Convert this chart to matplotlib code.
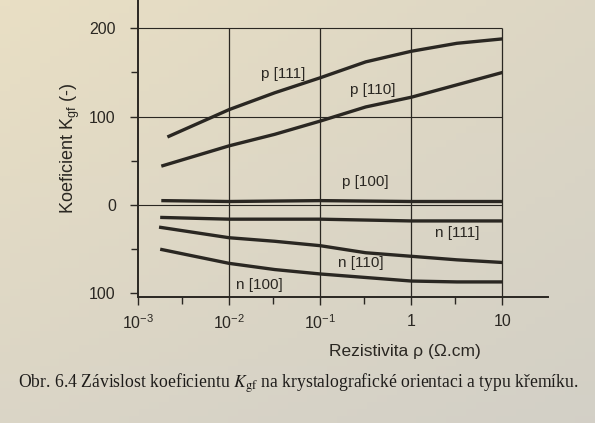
import numpy as np
import matplotlib
matplotlib.use("Agg")
import matplotlib.pyplot as plt
from matplotlib.ticker import FixedLocator, FixedFormatter, NullFormatter

plt.rcParams['font.family'] = ['Liberation Sans', 'DejaVu Sans']
plt.rcParams['mathtext.fontset'] = 'custom'
plt.rcParams['mathtext.rm'] = 'Liberation Sans'
plt.rcParams['mathtext.it'] = 'Liberation Sans:italic'
plt.rcParams['mathtext.bf'] = 'Liberation Sans:bold'

# ---- data ----
p111_x = [2.1e-3, 1e-2, 3.16e-2, 0.1, 0.316, 1, 3.16, 10]
p111_y = [77, 108, 127, 144, 162, 174, 183, 188]
p110_x = [1.8e-3, 1e-2, 3.16e-2, 0.1, 0.316, 1, 3.16, 10]
p110_y = [44, 67, 80, 95, 111, 122, 136, 150]
p100_x = [1.8e-3, 1e-2, 0.1, 1, 10]
p100_y = [5, 4, 5, 4, 4]
n111_x = [1.75e-3, 1e-2, 0.1, 1, 10]
n111_y = [-14, -16, -16, -18, -18]
n110_x = [1.7e-3, 1e-2, 3.16e-2, 0.1, 0.316, 1, 3.16, 10]
n110_y = [-25, -37, -41, -46, -54, -58, -62, -65]
n100_x = [1.75e-3, 1e-2, 3.16e-2, 0.1, 0.316, 1, 3.16, 10]
n100_y = [-50, -66, -73, -78, -82, -86, -87, -87]

series_names = ["p [111]", "p [110]", "p [100]", "n [111]", "n [110]", "n [100]"]
label_x = [0.039, 0.38, 0.31, 3.2, 0.28, 0.0215]
label_y = [148, 130, 26, -32, -66, -90]

x_ticks = [1e-3, 1e-2, 1e-1, 1, 10]
x_ticklabels = ["10$^{-3}$", "10$^{-2}$", "10$^{-1}$", "1", "10"]
x_minor = [3e-3, 3e-2, 3e-1, 3]
y_ticks = [-100, 0, 100, 200]
y_ticklabels = ["100", "0", "100", "200"]
y_minor = [-50, 50, 150]
grid_x = [1e-2, 1e-1, 1, 10]
grid_y = [0, 100, 200]

ink = "#2a2722"

fig = plt.figure(figsize=(5.95, 4.23), dpi=100)
# paper background
bg = fig.add_axes([0, 0, 1, 1], zorder=-10)
gx, gy = np.meshgrid(np.linspace(0, 1, 60), np.linspace(0, 1, 60))
top = np.array([233, 223, 196]) / 255.0
bot = np.array([214, 210, 199]) / 255.0
right = np.array([204, 203, 196]) / 255.0
t = np.clip(gy * 0.75 + gx * 0.25, 0, 1)[..., None]
img = top * (1 - t) + bot * t
img = img * (1 - 0.3 * gx[..., None]) + right * 0.3 * gx[..., None]
bg.imshow(img, extent=[0, 1, 0, 1], aspect='auto', origin='upper')
bg.set_axis_off()

ax = fig.add_axes([0.232, 0.298, 0.689, 0.702])
ax.set_facecolor('none')
ax.set_xscale('log')
ax.set_xlim(1e-3, 10 ** 1.5)
ax.set_ylim(-104, 232)

for s in ['top', 'right']:
    ax.spines[s].set_visible(False)
for s in ['left', 'bottom']:
    ax.spines[s].set_linewidth(1.4)
    ax.spines[s].set_color(ink)

ax.hlines(grid_y, 1e-3, 10, color=ink, lw=0.8, zorder=1)
ax.vlines(grid_x, -104, 200, color=ink, lw=0.9, zorder=1)

xs = [p111_x, p110_x, p100_x, n111_x, n110_x, n100_x]
ys = [p111_y, p110_y, p100_y, n111_y, n110_y, n100_y]
for x, y in zip(xs, ys):
    ax.plot(x, y, color=ink, lw=2.4, solid_capstyle='butt', zorder=3)

for name, lx, ly in zip(series_names, label_x, label_y):
    ax.text(lx, ly, name, ha='center', va='center', fontsize=11, color=ink)

ax.xaxis.set_major_locator(FixedLocator(x_ticks))
ax.xaxis.set_major_formatter(FixedFormatter(x_ticklabels))
ax.xaxis.set_minor_locator(FixedLocator(x_minor))
ax.xaxis.set_minor_formatter(NullFormatter())
ax.yaxis.set_major_locator(FixedLocator(y_ticks))
ax.yaxis.set_major_formatter(FixedFormatter(y_ticklabels))
ax.yaxis.set_minor_locator(FixedLocator(y_minor))
ax.tick_params(which='both', direction='out', color=ink, width=1.0, labelcolor=ink)
ax.tick_params(which='major', length=6, labelsize=11.5)
ax.tick_params(which='minor', length=5)
ax.tick_params(axis='x', pad=6)
ax.tick_params(axis='y', pad=10)

ax.set_xlabel("Rezistivita ρ (Ω.cm)", fontsize=12.5, color=ink)
ax.xaxis.set_label_coords(0.65, -0.185)
ax.xaxis.label.set_va('center')
ax.set_ylabel("Koeficient K$_{\\mathrm{gf}}$ (-)", fontsize=13, color=ink)
ax.yaxis.set_label_coords(-0.166, 0.50)
ax.yaxis.label.set_va('center')

cap = fig.text(18 / 595, 1 - 383 / 423,
               "Obr. 6.4 Závislost koeficientu $K_{\\mathrm{gf}}$ na krystalografické orientaci a typu křemíku.",
               fontsize=12, family=['Liberation Serif', 'DejaVu Serif'], math_fontfamily='stix',
               ha='left', va='center', color='#1e1c1a')
fig.canvas.draw()
w = cap.get_window_extent().width
cap.set_fontsize(12 * 560 / w)

fig.savefig("out.png", dpi=100)
